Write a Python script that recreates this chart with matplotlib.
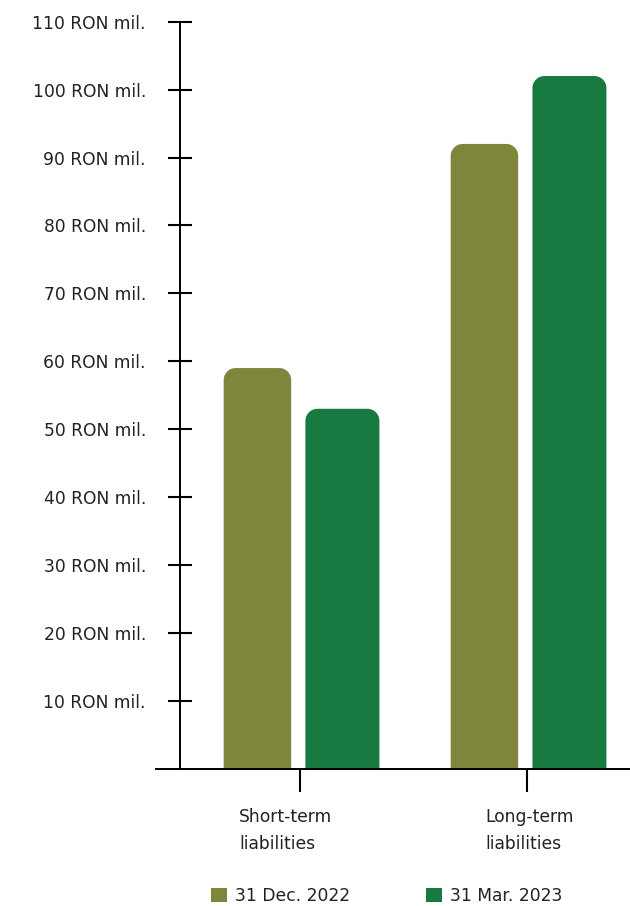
import matplotlib.pyplot as plt
from matplotlib.patches import PathPatch, Patch
from matplotlib.path import Path

# =========================
# DATA
# =========================
categories = ["Short-term\nliabilities", "Long-term\nliabilities"]
series_names = ["31 Dec. 2022", "31 Mar. 2023"]
values_dec_2022 = [59, 92]
values_mar_2023 = [53, 102]
y_ticks = [10, 20, 30, 40, 50, 60, 70, 80, 90, 100, 110]
y_tick_labels = [f"{v} RON mil." for v in y_ticks]

# =========================
# STYLE
# =========================
OLIVE = "#7F863C"
GREEN = "#187A40"
TEXT = "#222222"
plt.rcParams["font.family"] = ["DejaVu Sans"]
plt.rcParams["font.size"] = 12.3

W, H = 630, 906
fig = plt.figure(figsize=(W / 100, H / 100), dpi=100)

# axes box in pixels: x-axis line runs from 156 to the right edge
ax_left, ax_right = 156, 630
ax_top, ax_bottom = 21.7, 768.7
ax = fig.add_axes([ax_left / W, (H - ax_bottom) / H,
                   (ax_right - ax_left) / W, (ax_bottom - ax_top) / H])

ax.set_ylim(0, 110)
ax.set_xlim(-0.634, 1.454)

# =========================
# BARS (rounded top corners)
# =========================
PX_X = (ax_right - ax_left) / (1.454 + 0.634)   # px per x unit
PX_Y = (ax_bottom - ax_top) / 110               # px per y unit
radius_px = 12
rx = radius_px / PX_X
ry = radius_px / PX_Y
K = 0.5523  # bezier circle constant

def rounded_bar(xc, width, height, color):
    x0, x1 = xc - width / 2, xc + width / 2
    verts = [
        (x0, 0), (x0, height - ry),
        (x0, height - ry + K * ry), (x0 + rx - K * rx, height), (x0 + rx, height),
        (x1 - rx, height),
        (x1 - rx + K * rx, height), (x1, height - ry + K * ry), (x1, height - ry),
        (x1, 0), (x0, 0),
    ]
    codes = [Path.MOVETO, Path.LINETO,
             Path.CURVE4, Path.CURVE4, Path.CURVE4,
             Path.LINETO,
             Path.CURVE4, Path.CURVE4, Path.CURVE4,
             Path.LINETO, Path.CLOSEPOLY]
    ax.add_patch(PathPatch(Path(verts, codes), fc=color, ec="none", lw=0))

offset = 42.5 / PX_X
w_olive = 67.5 / PX_X
w_green = 74 / PX_X
for i in range(len(categories)):
    rounded_bar(i - offset, w_olive, values_dec_2022[i], OLIVE)
    rounded_bar(i + offset, w_green, values_mar_2023[i], GREEN)

# =========================
# AXES
# =========================
for s in ["top", "right"]:
    ax.spines[s].set_visible(False)
ax.spines["left"].set_position(("axes", (180 - ax_left) / (ax_right - ax_left)))
ax.spines["left"].set_linewidth(1.4)
ax.spines["bottom"].set_linewidth(1.4)

ax.set_yticks(y_ticks)
ax.set_yticklabels(y_tick_labels, color=TEXT)
ax.tick_params(axis="y", direction="inout", length=17, width=1.5, pad=16)

ax.set_xticks(range(len(categories)))
ax.set_xticklabels([])
ax.tick_params(axis="x", direction="out", length=16.5, width=1.5)

# category labels under the ticks, left aligned
label_x = [-61 / PX_X, 1 - 42 / PX_X]
for i, lab in enumerate(categories):
    ax.text(label_x[i], -5.8, lab, ha="left", va="top", color=TEXT,
            linespacing=1.62, transform=ax.transData, clip_on=False)

# =========================
# LEGEND
# =========================
handles = [Patch(fc=OLIVE, ec="none"), Patch(fc=GREEN, ec="none")]
fig.legend(handles, series_names, loc="center", bbox_to_anchor=(0.614, 1 - 896 / H),
           ncol=2, frameon=False, handlelength=0.9, handleheight=0.9,
           handletextpad=0.5, columnspacing=4.45, labelcolor=TEXT)

fig.savefig("out.png", dpi=100)
